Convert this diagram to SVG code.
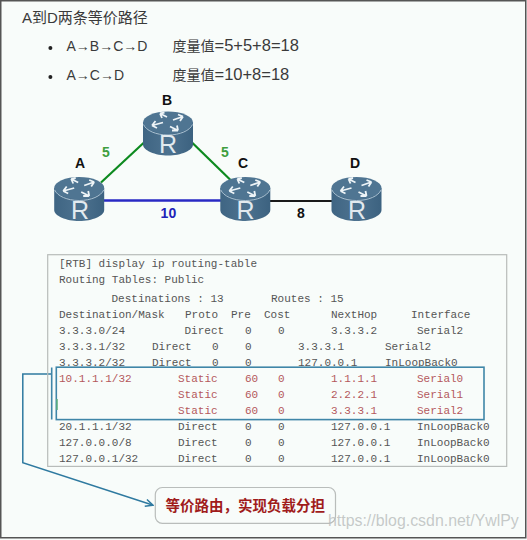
<svg xmlns="http://www.w3.org/2000/svg" xmlns:xlink="http://www.w3.org/1999/xlink" width="527" height="540" viewBox="0 0 527 540">
<style>
.cjk{font-family:"Liberation Sans","Noto Sans CJK SC",sans-serif;fill:#3a3a3a}
.lbl{font-family:"Liberation Sans",sans-serif;font-weight:bold;font-size:14px;text-anchor:middle;fill:#111}
.r{font-family:"Liberation Sans",sans-serif;font-size:25px;text-anchor:middle;fill:#e2eaef}
.t text{font-family:"Liberation Mono",monospace;font-size:11px;fill:#555;white-space:pre}
.t text.red{fill:#b4585c}
.blue{fill:none;stroke:#3f86a8;stroke-width:1.6}
</style>
<defs>
<linearGradient id="body" x1="0" x2="1" y1="0" y2="0">
<stop offset="0" stop-color="#3f6583"/><stop offset="0.5" stop-color="#4d728f"/><stop offset="1" stop-color="#3c6280"/>
</linearGradient>
<marker id="arr" markerWidth="9" markerHeight="8" refX="7.5" refY="4" orient="auto" markerUnits="userSpaceOnUse">
<path d="M0.5 0.5L8 4L0.5 7.5" fill="none" stroke="#2f7aa0" stroke-width="1.5"/>
</marker>
<g id="router">
<path d="M-25 -11V11C-25 17 -13 22 0 22S25 17 25 11V-11Z" fill="url(#body)"/>
<ellipse cx="0" cy="-11" rx="25" ry="11" fill="#4f7592"/>
<path d="M-24.5 -9C-22 -3 -12 1.500 0 1.500S22 -3 24.500 -9" fill="none" stroke="#a9c0d0" stroke-width="1"/>
<g fill="none" stroke="#eef4f7" stroke-width="1.800">
<path d="M-8 -20L-1 -16.500M-8 -20L-3.500 -21M-8 -20L-6 -15.500"/>
<path d="M15 -17L5 -13.500M15 -17L10 -19M15 -17L12 -12.500"/>
<path d="M-16 -8L-5 -11M-16 -8L-12.500 -12.500M-16 -8L-11 -5.500"/>
<path d="M10 -3L2 -7M10 -3L4 -3M10 -3L9 -8"/>
</g>
</g>
</defs>
<rect width="527" height="540" fill="#f8fcfa"/>
<rect x="0.750" y="0.750" width="525" height="537" fill="none" stroke="#555" stroke-width="1.500"/>
<g id="heading">
<text class="cjk" x="22" y="22.500" font-size="15">A到D两条等价路径</text>
<circle cx="50.400" cy="48" r="2" fill="#222"/>
<text class="cjk" x="66.500" y="51.300" font-size="14">A→B→C→D</text>
<text class="cjk" x="172.500" y="51.300" font-size="14">度量值<tspan font-size="16.500">=5+5+8=18</tspan></text>
<circle cx="50.400" cy="77" r="2" fill="#222"/>
<text class="cjk" x="66.500" y="80.300" font-size="14">A→C→D</text>
<text class="cjk" x="172.500" y="80.300" font-size="14">度量值<tspan font-size="16.500">=10+8=18</tspan></text>
</g>
<g id="connectors" fill="none">
<line x1="101" y1="182.500" x2="144" y2="142.500" stroke="#0d8a1f" stroke-width="2.200"/>
<line x1="192" y1="142.500" x2="230.500" y2="180" stroke="#0d8a1f" stroke-width="2.200"/>
<line x1="103" y1="200.500" x2="221" y2="200.500" stroke="#2a2ac4" stroke-width="2.400"/>
<line x1="269" y1="201" x2="332" y2="201" stroke="#1a1a1a" stroke-width="2.200"/>
<path d="M51.700 374H22.800V462.800L152.500 505" stroke="#2f7aa0" stroke-width="1.500" marker-end="url(#arr)"/>
</g>
<g id="router-A"><use href="#router" x="79.200" y="199"/><text class="r" x="80" y="218.500">R</text><text class="lbl" x="80" y="168">A</text></g>
<g id="router-B"><use href="#router" x="168" y="133.500"/><text class="r" x="168" y="153">R</text><text class="lbl" x="167" y="105">B</text></g>
<g id="router-C"><use href="#router" x="245.300" y="199"/><text class="r" x="245.500" y="218.500">R</text><text class="lbl" x="243" y="168">C</text></g>
<g id="router-D"><use href="#router" x="356.500" y="199"/><text class="r" x="357" y="218.500">R</text><text class="lbl" x="355" y="168">D</text></g>
<g id="link-labels">
<text class="lbl" x="106" y="157" style="fill:#3f9e3f">5</text>
<text class="lbl" x="225" y="157" style="fill:#3f9e3f">5</text>
<text class="lbl" x="168.400" y="218" style="fill:#2222b8">10</text>
<text class="lbl" x="301" y="218">8</text>
</g>
<g id="routing-table" class="t">
<rect x="47.700" y="254.700" width="459" height="211.700" fill="none" stroke="#b8bcba" stroke-width="1.200"/>
<text x="59" y="267">[RTB] display ip routing-table</text>
<text x="59" y="283">Routing Tables: Public</text>
<text x="111.500" y="302">Destinations : 13</text><text x="271" y="302">Routes : 15</text>
<text x="59" y="318">Destination/Mask</text><text x="185" y="318">Proto</text><text x="231" y="318">Pre</text><text x="264" y="318">Cost</text><text x="331" y="318">NextHop</text><text x="411" y="318">Interface</text>
<text x="59" y="334">3.3.3.0/24</text><text x="184.500" y="334">Direct</text><text x="245" y="334">0</text><text x="278" y="334">0</text><text x="331" y="334">3.3.3.2</text><text x="417" y="334">Serial2</text>
<text x="59" y="350">3.3.3.1/32</text><text x="152" y="350">Direct</text><text x="212" y="350">0</text><text x="245" y="350">0</text><text x="298" y="350">3.3.3.1</text><text x="385" y="350">Serial2</text>
<text x="59" y="366">3.3.3.2/32</text><text x="152" y="366">Direct</text><text x="212" y="366">0</text><text x="245" y="366">0</text><text x="298" y="366">127.0.0.1</text><text x="385" y="366">InLoopBack0</text>
<text class="red" x="59" y="382">10.1.1.1/32</text><text class="red" x="178" y="382">Static</text><text class="red" x="245" y="382">60</text><text class="red" x="278" y="382">0</text><text class="red" x="331" y="382">1.1.1.1</text><text class="red" x="417" y="382">Serial0</text>
<text class="red" x="178" y="398">Static</text><text class="red" x="245" y="398">60</text><text class="red" x="278" y="398">0</text><text class="red" x="331" y="398">2.2.2.1</text><text class="red" x="417" y="398">Serial1</text>
<text class="red" x="178" y="414">Static</text><text class="red" x="245" y="414">60</text><text class="red" x="278" y="414">0</text><text class="red" x="331" y="414">3.3.3.1</text><text class="red" x="417" y="414">Serial2</text>
<text x="59" y="430">20.1.1.1/32</text><text x="178" y="430">Direct</text><text x="245" y="430">0</text><text x="278" y="430">0</text><text x="331" y="430">127.0.0.1</text><text x="417" y="430">InLoopBack0</text>
<text x="59" y="446">127.0.0.0/8</text><text x="178" y="446">Direct</text><text x="245" y="446">0</text><text x="278" y="446">0</text><text x="331" y="446">127.0.0.1</text><text x="417" y="446">InLoopBack0</text>
<text x="59" y="462">127.0.0.1/32</text><text x="178" y="462">Direct</text><text x="245" y="462">0</text><text x="278" y="462">0</text><text x="331" y="462">127.0.0.1</text><text x="417" y="462">InLoopBack0</text>
</g>
<g id="highlight">
<rect class="blue" x="56.300" y="367.200" width="427.700" height="52.400"/>
<line class="blue" x1="51.700" y1="367.500" x2="51.700" y2="419.500"/>
<line x1="57" y1="399" x2="57" y2="410" stroke="#5db07a" stroke-width="1.500"/>
</g>
<g id="callout">
<rect x="155.300" y="487.500" width="180.200" height="35.800" rx="7" fill="#f8fcfa" stroke="#b9bdbb" stroke-width="1.200"/>
<text x="165.500" y="511" font-family="'Noto Sans CJK SC',sans-serif" font-weight="bold" font-size="14.500" fill="#a01c1c">等价路由，实现负载分担</text>
</g>
<text id="watermark" x="328" y="526" font-family="'Liberation Sans',sans-serif" font-size="15.900" fill="#b4b8b8" fill-opacity="0.75">https://blog.csdn.net/YwlPy</text>
</svg>
